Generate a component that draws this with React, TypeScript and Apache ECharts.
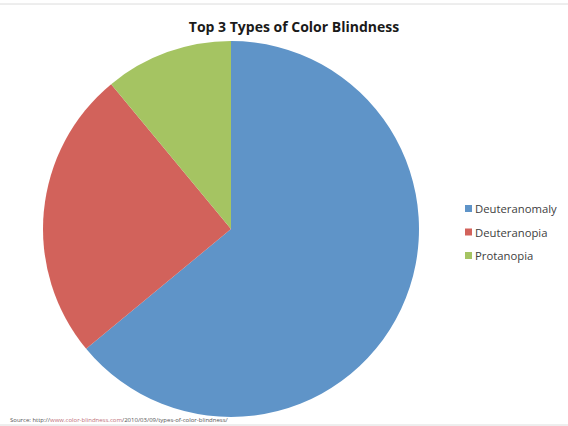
import React, { useEffect, useRef } from "react";
import * as echarts from "echarts";

const categories = ["Deuteranomaly", "Deuteranopia", "Protanopia"];
const values = [64, 25, 11];
const colors = ["#5f94c8", "#d2625b", "#a5c462"];
const titleText = "Top 3 Types of Color Blindness";
const sourcePrefix = "Source: http://";
const sourceLink = "www.color-blindness.com";
const sourceSuffix = "/2010/03/09/types-of-color-blindness/";

export default function App() {
  const ref = useRef<HTMLDivElement>(null);
  useEffect(() => {
    if (!ref.current) return;
    const chart = echarts.init(ref.current, null, { renderer: "svg" });
    chart.setOption({
      animation: false,
      backgroundColor: "#ffffff",
      title: {
        text: titleText,
        left: 289,
        top: 14,
        textAlign: "center",
        textStyle: {
          fontFamily: "Open Sans",
          fontWeight: "bold",
          fontSize: 14,
          color: "#1a1a1a",
        },
      },
      legend: {
        orient: "vertical",
        left: 460,
        top: 198,
        itemWidth: 7,
        itemHeight: 7,
        itemGap: 12.5,
        icon: "rect",
        data: categories,
        textStyle: {
          fontFamily: "Open Sans",
          fontSize: 11.3,
          color: "#404040",
          padding: [0, 0, 0, -2],
        },
      },
      graphic: [
        {
          type: "line",
          shape: { x1: 0, y1: 4, x2: 568, y2: 4 },
          style: { stroke: "#dcdcdc", lineWidth: 1 },
        },
        {
          type: "line",
          shape: { x1: 0, y1: 425, x2: 568, y2: 425 },
          style: { stroke: "#dcdcdc", lineWidth: 1 },
        },
        {
          type: "text",
          x: 10,
          y: 417,
          style: {
            text: `{a|${sourcePrefix}}{b|${sourceLink}}{a|${sourceSuffix}}`,
            rich: {
              a: { fontSize: 6, fontFamily: "Open Sans", fill: "#555555" },
              b: { fontSize: 6, fontFamily: "Open Sans", fill: "#c0707a" },
            },
          },
        },
      ],
      series: [
        {
          type: "pie",
          center: [231, 229],
          radius: 188,
          startAngle: 90,
          clockwise: true,
          label: { show: false },
          labelLine: { show: false },
          itemStyle: { borderWidth: 0 },
          emphasis: { disabled: true },
          data: categories.map((name, i) => ({
            name,
            value: values[i],
            itemStyle: { color: colors[i] },
          })),
        },
      ],
    });
    return () => chart.dispose();
  }, []);
  return (
    <div
      ref={ref}
      style={{ position: "fixed", left: 0, top: 0, width: 568, height: 426 }}
    />
  );
}
